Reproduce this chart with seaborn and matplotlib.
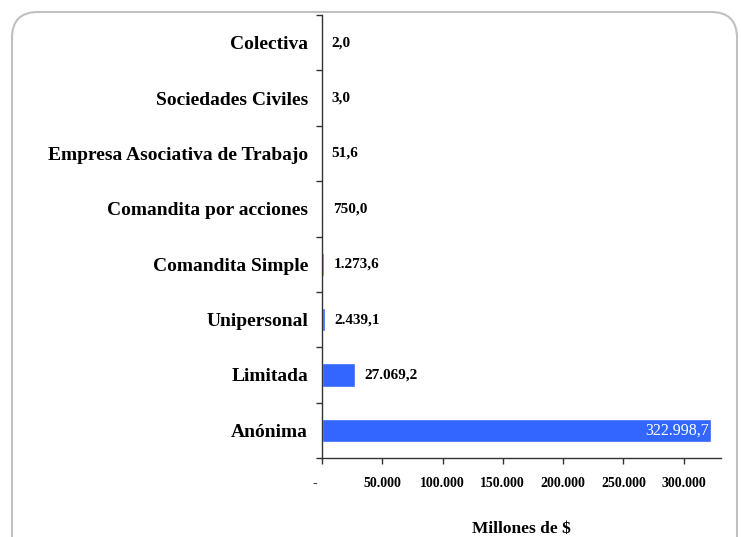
import matplotlib
matplotlib.use("Agg")
import matplotlib.pyplot as plt
import matplotlib.transforms as mtransforms
import seaborn as sns
import pandas as pd
import numpy as np
from matplotlib.patches import FancyBboxPatch
from matplotlib.ticker import FixedLocator

categories = ["Colectiva", "Sociedades Civiles", "Empresa Asociativa de Trabajo",
              "Comandita por acciones", "Comandita Simple", "Unipersonal",
              "Limitada", "Anónima"]
values = [2.0, 3.0, 51.6, 750.0, 1273.6, 2439.1, 27069.2, 322998.7]
value_labels = ["2,0", "3,0", "51,6", "750,0", "1.273,6", "2.439,1", "27.069,2", "322.998,7"]
x_ticks = [0, 50000, 100000, 150000, 200000, 250000, 300000]
x_tick_labels = ["-", "50.000", "100.000", "150.000", "200.000", "250.000", "300.000"]
x_label = "Millones de $"

sns.set_style("white")
plt.rcParams['font.family'] = ['Liberation Serif', 'DejaVu Serif']
plt.rcParams['text.color'] = 'black'
plt.rcParams['xtick.color'] = 'black'
plt.rcParams['ytick.color'] = 'black'
plt.rcParams['axes.labelcolor'] = 'black'

df = pd.DataFrame({"tipo": categories, "valor": values})

fig = plt.figure(figsize=(7.41, 5.37), dpi=100)
border = FancyBboxPatch((12/741, -0.2), (737-12)/741, 1.2 - 12/537,
                        boxstyle="round,pad=0,rounding_size=0.035",
                        transform=fig.transFigure, facecolor="none",
                        edgecolor="#c0c0c0", linewidth=1.5, zorder=-1,
                        mutation_aspect=741/537)
fig.patches.append(border)

ax = fig.add_axes([322/741, (537-458)/537, 399/741, 443/537])
ax.patch.set_alpha(0)
sns.barplot(data=df, y="tipo", x="valor", orient="h", color="#3366ff",
            saturation=1, width=0.42, ax=ax, order=categories)

ax.set_xlim(0, 331000)
ax.set_ylim(len(categories) - 0.5, -0.5)

for s in ["top", "right"]:
    ax.spines[s].set_visible(False)
for s in ["left", "bottom"]:
    ax.spines[s].set_color("#333333")
    ax.spines[s].set_linewidth(1.0)

ax.set_xticks(x_ticks)
ax.set_xticklabels(x_tick_labels, fontsize=10, fontweight="bold")
ax.tick_params(axis="x", bottom=True, direction="out", length=4, width=1,
               color="#333333", pad=10)
# shift the "-" zero label slightly left as in the reference
zero_lab = ax.get_xticklabels()[0]
zero_lab.set_transform(zero_lab.get_transform() +
                       mtransforms.ScaledTranslation(-7/100, 0, fig.dpi_scale_trans))

ax.set_yticks(range(len(categories)))
ax.set_yticklabels(categories, fontsize=14, fontweight="bold")
ax.tick_params(axis="y", which="major", left=True, length=0, pad=10)
ax.yaxis.set_minor_locator(FixedLocator(np.arange(-0.5, len(categories), 1.0)))
ax.tick_params(axis="y", which="minor", left=True, direction="out", length=4,
               width=1, color="#333333")

ax.set_ylabel("")
ax.set_xlabel(x_label, fontsize=12.5, fontweight="bold", labelpad=22)

for i, (v, lab) in enumerate(zip(values, value_labels)):
    if v > 200000:
        ax.annotate(lab, xy=(v, i), xytext=(-2, 0), textcoords="offset points",
                    ha="right", va="center", color="white", fontsize=11.5)
    else:
        ax.annotate(lab, xy=(v, i), xytext=(7, 0), textcoords="offset points",
                    ha="left", va="center", color="black", fontsize=11, fontweight="bold")

fig.savefig("out.png", dpi=100)
